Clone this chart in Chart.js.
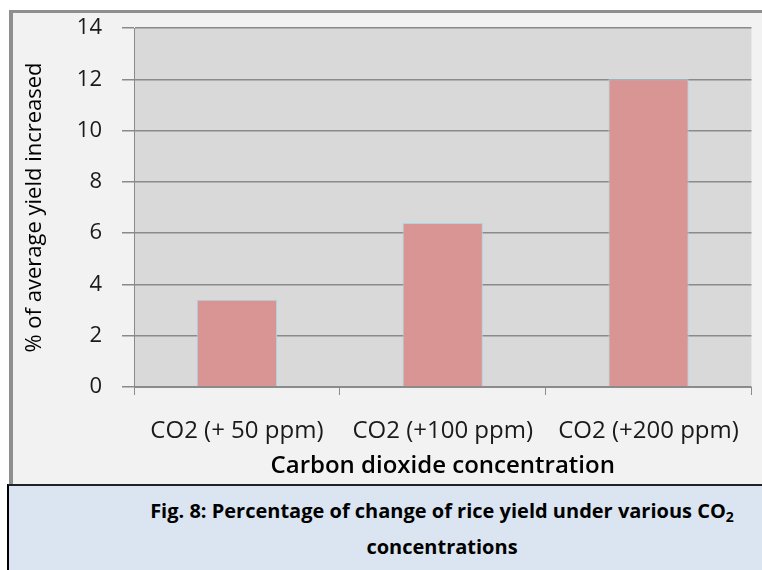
<!DOCTYPE html>
<html>
<head>
<meta charset="utf-8">
<script src="https://cdn.jsdelivr.net/npm/chart.js@4.4.1/dist/chart.umd.min.js"></script>
<style>
    body { margin: 0; background: #fff; width: 762px; height: 570px; overflow: hidden; position: relative; font-family: "Open Sans", sans-serif; }
    .frame { position: absolute; left: 9px; top: 10px; width: 760px; height: 475px; background: #f2f2f2; border-left: 4px solid #8f8f8f; border-top: 3px solid #8f8f8f; box-sizing: border-box; }
    .chart-box { position: absolute; left: 13px; top: 13px; width: 749px; height: 472px; }
    .caption { position: absolute; left: 7px; top: 484px; width: 770px; height: 90px; background: #dbe5f1; border-left: 2px solid #000; border-top: 2px solid #222; box-sizing: border-box; text-align: center; font-weight: bold; font-size: 20px; line-height: 36px; color: #000; padding: 7px 0 0 98px; }
    .caption sub { font-size: 14px; vertical-align: -4px; line-height: 0; }
</style>
</head>
<body>
<div class="frame"></div>
<div class="chart-box"><canvas id="yieldChart"></canvas></div>
<div class="caption">Fig. 8: Percentage of change of rice yield under various CO<sub>2</sub><br>concentrations</div>
<script>
const categories = ["CO2 (+ 50 ppm)", "CO2 (+100 ppm)", "CO2 (+200 ppm)"];
const yieldIncrease = [3.4, 6.4, 12.0];
const yTicks = [0, 2, 4, 6, 8, 10, 12, 14];

// grey plot area like the excel original
const plotBg = {
    id: "plotBg",
    beforeDraw(chart) {
        const { ctx, chartArea: a } = chart;
        ctx.save();
        ctx.fillStyle = "#d9d9d9";
        ctx.fillRect(a.left, a.top, a.right - a.left, a.bottom - a.top);
        ctx.restore();
    }
};

const ctx = document.getElementById("yieldChart");
new Chart(ctx, {
    type: "bar",
    data: {
        labels: categories,
        datasets: [{
            data: yieldIncrease,
            backgroundColor: "#d99594",
            borderColor: "#a9d6e2",
            borderWidth: 1,
            barPercentage: 0.39,
            categoryPercentage: 1
        }]
    },
    options: {
        responsive: true,
        maintainAspectRatio: false,
        animation: false,
        layout: { padding: { left: 0, right: 7, top: 2, bottom: 0 } },
        plugins: {
            legend: { display: false },
            tooltip: { enabled: false }
        },
        scales: {
            x: {
                afterFit(axis) { axis.height = 98; },
                grid: { offset: true, drawOnChartArea: false, color: "#8c8c8c", lineWidth: 1, tickLength: 8 },
                border: { color: "#8c8c8c", width: 1 },
                ticks: { color: "#1a1a1a", font: { family: "Open Sans", size: 24 }, padding: 22, maxRotation: 0, autoSkip: false },
                title: { display: true, text: "Carbon dioxide concentration", color: "#000", font: { family: "Open Sans", size: 24, weight: "600" }, padding: { top: 5, bottom: 4 } }
            },
            y: {
                min: 0,
                max: 14,
                afterBuildTicks(axis) { axis.ticks = yTicks.map(v => ({ value: v })); },
                afterFit(axis) {
                    axis.width = 121;
                    // tick padding would otherwise push the plot down
                    axis.paddingTop = 15;
                    axis.paddingBottom = 12;
                },
                grid: { color: "#8a8a8a", lineWidth: 1.5, tickLength: 12 },
                border: { color: "#8a8a8a", width: 1 },
                ticks: { color: "#1a1a1a", font: { family: "Open Sans", size: 22 }, padding: 20 },
                title: { display: true, text: "% of average yield increased", color: "#000", font: { family: "Open Sans", size: 22 }, padding: { top: 9, bottom: 0 } }
            }
        }
    },
    plugins: [plotBg]
});
</script>
</body>
</html>
